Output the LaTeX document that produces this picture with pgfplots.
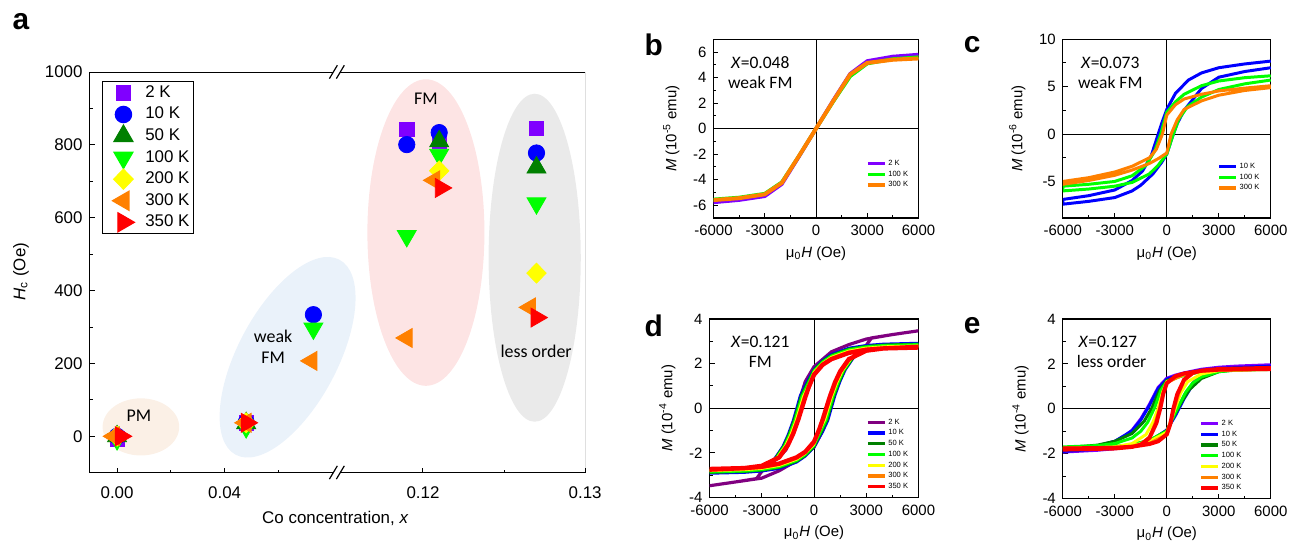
\documentclass[border=0pt]{standalone}
\usepackage{pgfplots}
\pgfplotsset{compat=1.18}
\usepackage{fontspec}
\setmainfont{Liberation Sans}
\newfontfamily\calfont{Carlito}

\definecolor{cPur}{RGB}{128,0,255}
\definecolor{cPurD}{RGB}{128,0,128}
\definecolor{cBlu}{RGB}{0,0,255}
\definecolor{cDgr}{RGB}{0,128,0}
\definecolor{cGrn}{RGB}{0,255,0}
\definecolor{cYel}{RGB}{255,255,0}
\definecolor{cOra}{RGB}{255,128,0}
\definecolor{cRed}{RGB}{255,0,0}
\definecolor{ePM}{RGB}{251,240,230}
\definecolor{eWFM}{RGB}{234,242,250}
\definecolor{eFM}{RGB}{253,228,228}
\definecolor{eLO}{RGB}{234,234,234}

\newcommand{\fs}[1]{\fontsize{#1}{#1}\selectfont}

\pgfplotsset{
  every axis/.append style={scale only axis, anchor=south west,
    /pgf/number format/assume math mode=true, /pgf/number format/1000 sep={},
    scaled ticks=false, tick align=inside, xtick pos=bottom, ytick pos=left,
    tick style={black, line width=0.5pt}, major tick length=2.5pt, minor tick length=1.5pt},
  hyst/.style={xmin=-6000, xmax=6000, xtick={-6000,-3000,0,3000,6000}, minor x tick num=1,
    axis line style={line width=0.6pt},
    ticklabel style={font=\fs{7.5}}, label style={font=\fs{7.5}},
    xlabel={μ\textsubscript{0}\textit{H} (Oe)}, xlabel style={yshift=1.5pt},
    legend image code/.code={\draw[##1, line width=1.6pt] (0pt,0pt) -- (8.5pt,0pt);},
    legend style={anchor=north west, draw=none, fill=none, font=\fs{3.8},
      inner sep=0pt, row sep=2pt, column sep=1pt,
      nodes={inner sep=0pt, text height=2.7pt, text depth=0.7pt}},
    legend cell align=left},
  m2/.style={only marks, mark=square*, mark size=3.6pt, color=cPur},
  m10/.style={only marks, mark=*, mark size=4.1pt, color=cBlu},
  m50/.style={only marks, mark=triangle*, mark size=5.5pt, color=cDgr},
  m100/.style={only marks, mark=triangle*, mark size=5.5pt, color=cGrn, mark options={rotate=180}},
  m200/.style={only marks, mark=diamond*, mark size=5pt, color=cYel, mark options={xscale=1.3}},
  m300/.style={only marks, mark=triangle*, mark size=5.5pt, color=cOra, mark options={rotate=90}},
  m350/.style={only marks, mark=triangle*, mark size=5.5pt, color=cRed, mark options={rotate=-90}},
}

\begin{document}
\begin{tikzpicture}
\begin{scope}[x=0.5pt,y=-0.5pt]
\useasboundingbox (0,0) rectangle (1294,536);
\coordinate (A1) at (90,475);
\coordinate (A2) at (339,475);
\coordinate (B) at (717,219);
\coordinate (C) at (1068,219);
\coordinate (D) at (713,500);
\coordinate (E) at (1068,501);
% shaded regions of panel a
\fill[ePM] (141.6,429) ellipse [x radius=19.25pt, y radius=14.35pt];
\fill[eWFM, rotate around={62:(289,359)}] (289,359) ellipse [x radius=55.5pt, y radius=25pt];
\fill[eFM] (428,233.7) ellipse [x radius=29.4pt, y radius=77pt];
\fill[eLO] (537.3,259) ellipse [x radius=23.15pt, y radius=82.4pt];
\end{scope}

% ---------- panel a, left part of the broken axis
\begin{axis}[at={(A1)}, width=124.5pt, height=201.25pt,
  xmin=-0.01023, xmax=0.0819, ymin=-100, ymax=1000,
  axis line style={draw=none},
  xtick={0,0.04}, xticklabels={0.00,0.04}, minor xtick={0.02,0.06},
  ytick={0,200,400,600,800,1000}, minor ytick={-100,100,300,500,700,900},
  ticklabel style={font=\fs{8.5}}, xticklabel style={yshift=-3.5pt}, clip=false,
  legend image code/.code={\path[draw=none, fill=none] (0pt,-1pt) rectangle (17pt,1pt); \draw[#1] plot coordinates {(9.5pt,0pt)};},
  legend style={at={(0.05,0.978)}, anchor=north west, font=\fs{8.5},
    draw=black, line width=0.6pt, inner xsep=1pt, inner ysep=0pt, row sep=-0.6pt,
    column sep=2.5pt, nodes={inner xsep=1pt}},
  legend cell align=left]
\draw[line width=0.6pt] (rel axis cs:1,1) -- (rel axis cs:0,1) -- (rel axis cs:0,0) -- (rel axis cs:1,0);
\addplot[m2] coordinates {(0,-7) (0.048,37)}; \addlegendentry{2 K}
\addplot[m10] coordinates {(0,0) (0.048,38) (0.073,334)}; \addlegendentry{10 K}
\addplot[m50] coordinates {(0,0) (0.048,36)}; \addlegendentry{50 K}
\addplot[m100] coordinates {(0,-8) (0.048,25) (0.073,296)}; \addlegendentry{100 K}
\addplot[m200] coordinates {(0,0) (0.048,37)}; \addlegendentry{200 K}
\addplot[m300] coordinates {(-0.0011,0) (0.0478,37) (0.0723,207)}; \addlegendentry{300 K}
\addplot[m350] coordinates {(0.0014,0) (0.0482,37)}; \addlegendentry{350 K}
\end{axis}

% ---------- panel a, right part of the broken axis
\begin{axis}[at={(A2)}, width=124.5pt, height=201.25pt,
  xmin=0.11472, xmax=0.13, ymin=-100, ymax=1000,
  axis line style={draw=none},
  xtick={0.12,0.13}, xticklabels={0.12,0.13}, minor xtick={0.125},
  ytick=\empty, ticklabel style={font=\fs{8.5}}, xticklabel style={yshift=-3.5pt}]
\draw[line width=0.6pt] (rel axis cs:0,1) -- (rel axis cs:1,1) -- (rel axis cs:1,0) -- (rel axis cs:0,0);
\addplot[m2] coordinates {(0.119,843) (0.121,810) (0.127,845)};
\addplot[m10] coordinates {(0.119,801) (0.121,834) (0.127,778)};
\addplot[m50] coordinates {(0.121,810) (0.127,738)};
\addplot[m100] coordinates {(0.119,550) (0.121,773) (0.127,640)};
\addplot[m200] coordinates {(0.121,729) (0.127,448)};
\addplot[m300] coordinates {(0.119,270) (0.1207,703) (0.1266,354)};
\addplot[m350] coordinates {(0.1211,682) (0.127,326)};
\end{axis}

% ---------- panel b
\begin{axis}[hyst, at={(B)}, width=103pt, height=89.75pt, ymin=-7, ymax=7,
  ytick={-6,-4,-2,0,2,4,6}, minor y tick num=1,
  ylabel={\textit{M} (10\textsuperscript{-5} emu)},
  legend style={at={(0.743,0.326)}}]
\draw[line width=0.5pt] (axis cs:-6000,0) -- (axis cs:6000,0);
\draw[line width=0.5pt] (axis cs:0,-7) -- (axis cs:0,7);
\addplot[cPur, line width=1.8pt] coordinates {(-6000,-5.78) (-4500,-5.6) (-3000,-5.3) (-2000,-4.35) (-1000,-2.2) (0,0) (1000,2.2) (2000,4.3) (3000,5.3) (4500,5.65) (6000,5.8)};
\addlegendentry{2 K}
\addplot[cGrn, line width=1.8pt] coordinates {(-6000,-5.55) (-4500,-5.4) (-3000,-5.1) (-2000,-4.2) (-1000,-2.15) (0,0) (1000,2.1) (2000,4.1) (3000,5.1) (4500,5.45) (6000,5.6)};
\addlegendentry{100 K}
\addplot[cOra, line width=2pt] coordinates {(-6000,-5.6) (-4500,-5.45) (-3000,-5.15) (-2000,-4.25) (-1000,-2.15) (0,0) (1000,2.15) (2000,4.25) (3000,5.15) (4500,5.4) (6000,5.5)};
\addlegendentry{300 K}
\end{axis}

% ---------- panel c
\begin{axis}[hyst, at={(C)}, width=104.5pt, height=89.75pt, ymin=-8.85, ymax=10,
  ytick={-5,0,5,10}, minor y tick num=1,
  ylabel={\textit{M} (10\textsuperscript{-6} emu)},
  legend style={at={(0.742,0.309)}}]
\draw[line width=0.5pt] (axis cs:-6000,0) -- (axis cs:6000,0);
\draw[line width=0.5pt] (axis cs:0,-8.85) -- (axis cs:0,10);
\addplot[cBlu, line width=1.5pt] coordinates {(6000,7.7) (4500,7.4) (3000,7.0) (2000,6.45) (1250,5.7) (500,4.3) (0,2.6) (-300,1.1) (-600,-0.6) (-900,-2.3) (-1400,-3.9) (-2000,-4.9) (-3000,-5.9) (-4500,-6.5) (-6000,-6.9)
  (-6000,-7.4) (-4500,-7.1) (-3000,-6.7) (-2000,-6.0) (-1500,-5.4) (-800,-4.2) (-300,-3.0) (0,-2.1) (300,-0.4) (600,1.1) (1000,2.5) (2000,4.8) (3000,6.0) (4500,6.6) (6000,7.0)};
\addlegendentry{10 K}
\addplot[cGrn, line width=1.5pt] coordinates {(6000,6.15) (4500,5.95) (3000,5.6) (2000,5.1) (1000,4.2) (500,3.4) (0,2.3) (-350,0.0) (-700,-1.8) (-1200,-3.3) (-2000,-4.4) (-3000,-5.0) (-4500,-5.3) (-6000,-5.5)
  (-6000,-6.0) (-4500,-5.8) (-3000,-5.5) (-2000,-5.1) (-1000,-4.2) (-500,-3.3) (0,-2.1) (380,0.0) (700,1.6) (1200,2.9) (2000,3.9) (3000,4.7) (4500,5.3) (6000,5.7)};
\addlegendentry{100 K}
\addplot[cOra, line width=1.5pt] coordinates {(6000,5.1) (4500,4.85) (3000,4.55) (2000,4.2) (1000,3.7) (500,3.1) (0,2.0) (-250,0.0) (-600,-1.6) (-1000,-2.5) (-2000,-3.4) (-3000,-4.0) (-4500,-4.6) (-6000,-5.0)
  (-6000,-5.3) (-4500,-4.9) (-3000,-4.35) (-2000,-3.8) (-1000,-3.1) (-500,-2.6) (0,-2.0) (250,0.0) (600,1.5) (1000,2.6) (2000,3.5) (3000,4.1) (4500,4.6) (6000,4.9)};
\addlegendentry{300 K}
\end{axis}

% ---------- panel d
\begin{axis}[hyst, at={(D)}, width=105pt, height=89.75pt, ymin=-4, ymax=4,
  ytick={-4,-2,0,2,4}, minor y tick num=1,
  ylabel={\textit{M} (10\textsuperscript{-4} emu)},
  legend style={at={(0.748,0.443)}}]
\draw[line width=0.5pt] (axis cs:-6000,0) -- (axis cs:6000,0);
\draw[line width=0.5pt] (axis cs:0,-4) -- (axis cs:0,4);
\addplot[cPurD, line width=1.6pt] coordinates {(6000,3.47) (4500,3.3) (3000,3.1) (2000,2.85) (1000,2.53) (0,1.86) (-500,1.2) (-800,0.45) (-1000,-0.3) (-1300,-1.3) (-1600,-1.85) (-2000,-2.2) (-2800,-2.62) (-3300,-3.15) (-4500,-3.3) (-6000,-3.47)
  (-4500,-3.3) (-3000,-3.13) (-2000,-2.8) (-1000,-2.35) (0,-1.75) (500,-1.0) (800,-0.2) (1000,0.35) (1500,1.4) (2000,2.1) (2800,2.6) (3300,3.15) (4500,3.3) (6000,3.47)};
\addlegendentry{2 K}
\addplot[cBlu, line width=1.3pt] coordinates {(6000,2.92) (4000,2.88) (3000,2.82) (2000,2.7) (1000,2.42) (500,2.15) (0,1.75) (-500,1.05) (-800,0.55) (-1000,0.0) (-1200,-0.55) (-1500,-1.2) (-1800,-1.72) (-2300,-2.3) (-3000,-2.65) (-4000,-2.82) (-6000,-2.92)
  (-6000,-2.92) (-4000,-2.88) (-3000,-2.82) (-2000,-2.7) (-1000,-2.42) (-500,-2.15) (0,-1.75) (500,-1.05) (800,-0.55) (1000,0.0) (1200,0.55) (1500,1.2) (1800,1.72) (2300,2.3) (3000,2.65) (4000,2.82) (6000,2.92)};
\addlegendentry{10 K}
\addplot[cDgr, line width=1.3pt] coordinates {(6000,2.88) (4000,2.84) (3000,2.78) (2000,2.66) (1000,2.38) (500,2.12) (0,1.72) (-450,1.03) (-750,0.54) (-950,0.0) (-1150,-0.54) (-1450,-1.18) (-1750,-1.7) (-2250,-2.27) (-3000,-2.62) (-4000,-2.78) (-6000,-2.88)
  (-6000,-2.88) (-4000,-2.84) (-3000,-2.78) (-2000,-2.66) (-1000,-2.38) (-500,-2.12) (0,-1.72) (450,-1.03) (750,-0.54) (950,0.0) (1150,0.54) (1450,1.18) (1750,1.7) (2250,2.27) (3000,2.62) (4000,2.78) (6000,2.88)};
\addlegendentry{50 K}
\addplot[cGrn, line width=1.3pt] coordinates {(6000,2.86) (4000,2.82) (3000,2.76) (2000,2.63) (1000,2.35) (500,2.08) (0,1.68) (-400,1.02) (-700,0.53) (-900,0.0) (-1100,-0.53) (-1400,-1.17) (-1700,-1.69) (-2200,-2.26) (-3000,-2.6) (-4000,-2.76) (-6000,-2.86)
  (-6000,-2.86) (-4000,-2.82) (-3000,-2.76) (-2000,-2.63) (-1000,-2.35) (-500,-2.08) (0,-1.68) (400,-1.02) (700,-0.53) (900,0.0) (1100,0.53) (1400,1.17) (1700,1.69) (2200,2.26) (3000,2.6) (4000,2.76) (6000,2.86)};
\addlegendentry{100 K}
\addplot[cYel, line width=1.3pt] coordinates {(6000,2.8) (4000,2.76) (3000,2.7) (2000,2.57) (1000,2.29) (500,2.02) (0,1.62) (-320,1.0) (-620,0.52) (-820,0.0) (-1020,-0.52) (-1320,-1.15) (-1620,-1.66) (-2120,-2.22) (-3000,-2.56) (-4000,-2.7) (-6000,-2.8)
  (-6000,-2.8) (-4000,-2.76) (-3000,-2.7) (-2000,-2.57) (-1000,-2.29) (-500,-2.02) (0,-1.62) (320,-1.0) (620,-0.52) (820,0.0) (1020,0.52) (1320,1.15) (1620,1.66) (2120,2.22) (3000,2.56) (4000,2.7) (6000,2.8)};
\addlegendentry{200 K}
\addplot[cOra, line width=1.3pt] coordinates {(6000,2.76) (4000,2.72) (3000,2.66) (2000,2.52) (1000,2.24) (500,1.98) (0,1.56) (-250,0.97) (-550,0.51) (-750,0.0) (-950,-0.51) (-1250,-1.14) (-1550,-1.64) (-2050,-2.2) (-3000,-2.56) (-4000,-2.68) (-6000,-2.76)
  (-6000,-2.76) (-4000,-2.72) (-3000,-2.66) (-2000,-2.52) (-1000,-2.24) (-500,-1.98) (0,-1.56) (250,-0.97) (550,-0.51) (750,0.0) (950,0.51) (1250,1.14) (1550,1.64) (2050,2.2) (3000,2.56) (4000,2.68) (6000,2.76)};
\addlegendentry{300 K}
\addplot[cRed, line width=2.2pt] coordinates {(6000,2.72) (4000,2.68) (3000,2.62) (2000,2.48) (1000,2.2) (500,1.95) (0,1.5) (-300,0.95) (-500,0.5) (-700,0.0) (-900,-0.5) (-1200,-1.15) (-1500,-1.65) (-2000,-2.2) (-3000,-2.58) (-4000,-2.68) (-6000,-2.75)
  (-6000,-2.72) (-4000,-2.68) (-3000,-2.62) (-2000,-2.48) (-1000,-2.2) (-500,-1.95) (0,-1.5) (300,-0.95) (500,-0.5) (700,0.0) (900,0.5) (1200,1.15) (1500,1.65) (2000,2.2) (3000,2.58) (4000,2.68) (6000,2.75)};
\addlegendentry{350 K}
\end{axis}

% ---------- panel e
\begin{axis}[hyst, at={(E)}, width=104.5pt, height=90.25pt, ymin=-4, ymax=4,
  ytick={-4,-2,0,2,4}, minor y tick num=1,
  ylabel={\textit{M} (10\textsuperscript{-4} emu)},
  legend style={at={(0.656,0.439)}}]
\draw[line width=0.5pt] (axis cs:-6000,0) -- (axis cs:6000,0);
\draw[line width=0.5pt] (axis cs:0,-4) -- (axis cs:0,4);
\addplot[cPur, line width=1.5pt] coordinates {(6000,1.96) (4000,1.9) (3000,1.85) (2000,1.76) (1000,1.6) (500,1.5) (0,1.36) (-500,0.95) (-1000,0.2) (-1500,-0.45) (-2000,-0.95) (-2500,-1.25) (-3000,-1.45) (-4000,-1.68) (-6000,-1.92)
  (-6000,-1.93) (-4000,-1.85) (-3000,-1.78) (-2000,-1.68) (-1000,-1.48) (-500,-1.25) (0,-0.95) (500,-0.25) (1000,0.55) (1500,1.15) (2000,1.52) (3000,1.78) (4000,1.88) (6000,1.96)};
\addlegendentry{2 K}
\addplot[cBlu, line width=1.5pt] coordinates {(6000,1.9) (3000,1.8) (2000,1.72) (1000,1.58) (0,1.32) (-500,0.9) (-1000,0.15) (-1500,-0.5) (-2000,-0.98) (-3000,-1.45) (-4000,-1.65) (-6000,-1.88)
  (-6000,-1.9) (-3000,-1.75) (-2000,-1.65) (-1000,-1.45) (0,-0.95) (500,-0.3) (1000,0.45) (1500,1.08) (2000,1.45) (3000,1.72) (4000,1.82) (6000,1.88)};
\addlegendentry{10 K}
\addplot[cDgr, line width=1.5pt] coordinates {(6000,1.8) (3000,1.74) (2000,1.66) (1000,1.5) (0,1.25) (-400,0.85) (-850,0.05) (-1300,-0.55) (-2000,-1.1) (-3000,-1.45) (-4000,-1.62) (-6000,-1.75)
  (-6000,-1.76) (-3000,-1.7) (-2000,-1.6) (-1000,-1.42) (0,-0.98) (400,-0.35) (850,0.3) (1300,0.85) (2000,1.35) (3000,1.65) (4000,1.74) (6000,1.78)};
\addlegendentry{50 K}
\addplot[cGrn, line width=1.5pt] coordinates {(6000,1.76) (3000,1.72) (2000,1.65) (1000,1.5) (0,1.22) (-350,0.8) (-700,0.05) (-1100,-0.6) (-1500,-1.0) (-2000,-1.3) (-3000,-1.55) (-4000,-1.64) (-6000,-1.7)
  (-6000,-1.72) (-3000,-1.68) (-2000,-1.6) (-1000,-1.4) (0,-1.0) (350,-0.4) (700,0.15) (1100,0.75) (1500,1.15) (2000,1.42) (3000,1.65) (4000,1.72) (6000,1.75)};
\addlegendentry{100 K}
\addplot[cYel, line width=1.5pt] coordinates {(6000,1.76) (3000,1.73) (2000,1.67) (1000,1.52) (0,1.2) (-250,0.72) (-500,0.02) (-800,-0.6) (-1200,-1.15) (-2000,-1.55) (-3000,-1.7) (-6000,-1.78)
  (-6000,-1.78) (-3000,-1.72) (-2000,-1.65) (-1000,-1.45) (0,-1.05) (250,-0.5) (500,0.05) (800,0.7) (1200,1.2) (2000,1.55) (3000,1.7) (6000,1.76)};
\addlegendentry{200 K}
\addplot[cOra, line width=1.5pt] coordinates {(6000,1.75) (3000,1.72) (2000,1.67) (1000,1.54) (0,1.16) (-200,0.72) (-420,0.0) (-700,-0.7) (-1000,-1.25) (-1500,-1.58) (-2000,-1.68) (-3000,-1.75) (-6000,-1.8)
  (-6000,-1.75) (-3000,-1.72) (-2000,-1.67) (-1000,-1.54) (0,-1.16) (200,-0.72) (420,0.0) (700,0.7) (1000,1.25) (1500,1.58) (2000,1.68) (3000,1.75) (6000,1.8)};
\addlegendentry{300 K}
\addplot[cRed, line width=2pt] coordinates {(6000,1.77) (3000,1.74) (2000,1.69) (1000,1.57) (500,1.45) (0,1.14) (-200,0.68) (-380,0.0) (-600,-0.64) (-1000,-1.3) (-1500,-1.6) (-2000,-1.7) (-3000,-1.77) (-6000,-1.82)
  (-6000,-1.77) (-3000,-1.74) (-2000,-1.69) (-1000,-1.57) (-500,-1.45) (0,-1.14) (200,-0.68) (380,0.0) (600,0.64) (1000,1.3) (1500,1.6) (2000,1.7) (3000,1.77) (6000,1.82)};
\addlegendentry{350 K}
\end{axis}

% ---------- texts, break marks, panel letters
\begin{scope}[x=0.5pt,y=-0.5pt]
\node[font=\calfont\fs{9}] at (139.7,417.8) {PM};
\node[font=\calfont\fs{9}] at (274.4,337.8) {weak};
\node[font=\calfont\fs{9}] at (274.4,359.7) {FM};
\node[font=\calfont\fs{9}] at (427.9,99.1) {FM};
\node[font=\calfont\fs{9}] at (538.8,352.8) {less order};
\node[font=\fs{8.5}] at (337,521) {Co concentration, \textit{x}};
\node[font=\fs{8.5}, rotate=90] at (21,273) {\textit{H}\textsubscript{c} (Oe)};
\fill[white] (331,79) -- (339,65.6) -- (346,65.6) -- (338,79) -- cycle;
\draw[line width=0.6pt] (331,79) -- (339,65.6) (338,79) -- (346,65.6);
\fill[white] (331,481.5) -- (339,468.1) -- (346,468.1) -- (338,481.5) -- cycle;
\draw[line width=0.6pt] (331,481.5) -- (339,468.1) (338,481.5) -- (346,468.1);
\node[font=\calfont\fs{8.8}] at (764,63.3) {\textit{X}=0.048};
\node[font=\calfont\fs{8.8}] at (764,82.7) {weak FM};
\node[font=\calfont\fs{8.8}] at (1115.7,63.3) {\textit{X}=0.073};
\node[font=\calfont\fs{8.8}] at (1115.7,82.7) {weak FM};
\node[font=\calfont\fs{8.8}] at (764,343.3) {\textit{X}=0.121};
\node[font=\calfont\fs{8.8}] at (764,364) {FM};
\node[font=\calfont\fs{8.8}] at (1113.3,343.3) {\textit{X}=0.127};
\node[font=\calfont\fs{8.8}] at (1117,363.3) {less order};
\node[font=\bfseries\fs{15}] at (21,22) {a};
\node[font=\bfseries\fs{15}] at (657,45) {b};
\node[font=\bfseries\fs{15}] at (977,45) {c};
\node[font=\bfseries\fs{15}] at (657,327) {d};
\node[font=\bfseries\fs{15}] at (977,327) {e};
\end{scope}
\end{tikzpicture}
\end{document}
